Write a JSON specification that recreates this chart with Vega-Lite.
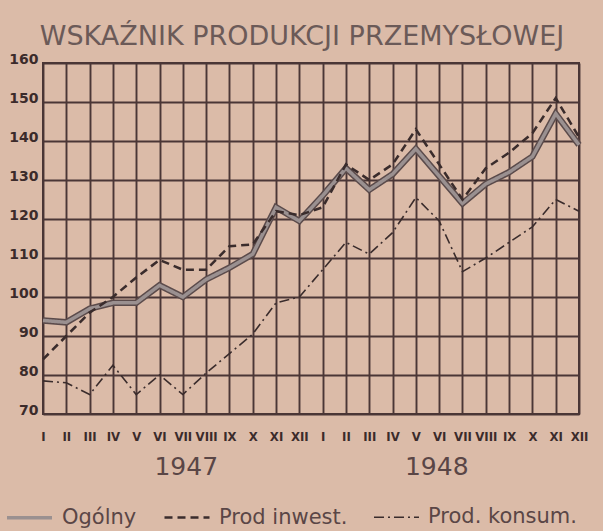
{
  "$schema": "https://vega.github.io/schema/vega-lite/v6.json",
  "width": 536,
  "height": 351,
  "autosize": {"type": "none"},
  "padding": {"left": 43, "top": 63, "right": 24, "bottom": 117},
  "background": "#dbbba8",
  "config": {"view": {"stroke": "#4a3636", "strokeWidth": 2}},
  "title": {"text": "WSKAŹNIK PRODUKCJI PRZEMYSŁOWEJ", "font": "DejaVu Sans", "fontSize": 27, "fontWeight": "normal", "color": "#6b5a58", "anchor": "middle", "offset": 1, "dx": -9},
  "datasets": {
    "main": [
      {"m": "1947-I", "s": "Ogólny", "v": 94}, {"m": "1947-II", "s": "Ogólny", "v": 93.5}, {"m": "1947-III", "s": "Ogólny", "v": 97}, {"m": "1947-IV", "s": "Ogólny", "v": 98.5}, {"m": "1947-V", "s": "Ogólny", "v": 98.5}, {"m": "1947-VI", "s": "Ogólny", "v": 103}, {"m": "1947-VII", "s": "Ogólny", "v": 100}, {"m": "1947-VIII", "s": "Ogólny", "v": 104.5}, {"m": "1947-IX", "s": "Ogólny", "v": 107.5}, {"m": "1947-X", "s": "Ogólny", "v": 111}, {"m": "1947-XI", "s": "Ogólny", "v": 123}, {"m": "1947-XII", "s": "Ogólny", "v": 119.5},
      {"m": "1948-I", "s": "Ogólny", "v": 126}, {"m": "1948-II", "s": "Ogólny", "v": 133}, {"m": "1948-III", "s": "Ogólny", "v": 127.5}, {"m": "1948-IV", "s": "Ogólny", "v": 131.5}, {"m": "1948-V", "s": "Ogólny", "v": 138}, {"m": "1948-VI", "s": "Ogólny", "v": 131}, {"m": "1948-VII", "s": "Ogólny", "v": 124}, {"m": "1948-VIII", "s": "Ogólny", "v": 129}, {"m": "1948-IX", "s": "Ogólny", "v": 132}, {"m": "1948-X", "s": "Ogólny", "v": 136}, {"m": "1948-XI", "s": "Ogólny", "v": 147}, {"m": "1948-XII", "s": "Ogólny", "v": 139},
      {"m": "1947-I", "s": "Prod inwest.", "v": 84}, {"m": "1947-II", "s": "Prod inwest.", "v": 90}, {"m": "1947-III", "s": "Prod inwest.", "v": 96}, {"m": "1947-IV", "s": "Prod inwest.", "v": 100}, {"m": "1947-V", "s": "Prod inwest.", "v": 105}, {"m": "1947-VI", "s": "Prod inwest.", "v": 109.5}, {"m": "1947-VII", "s": "Prod inwest.", "v": 107}, {"m": "1947-VIII", "s": "Prod inwest.", "v": 107}, {"m": "1947-IX", "s": "Prod inwest.", "v": 113}, {"m": "1947-X", "s": "Prod inwest.", "v": 113.5}, {"m": "1947-XI", "s": "Prod inwest.", "v": 122}, {"m": "1947-XII", "s": "Prod inwest.", "v": 121},
      {"m": "1948-I", "s": "Prod inwest.", "v": 123}, {"m": "1948-II", "s": "Prod inwest.", "v": 134}, {"m": "1948-III", "s": "Prod inwest.", "v": 130}, {"m": "1948-IV", "s": "Prod inwest.", "v": 134}, {"m": "1948-V", "s": "Prod inwest.", "v": 143}, {"m": "1948-VI", "s": "Prod inwest.", "v": 134}, {"m": "1948-VII", "s": "Prod inwest.", "v": 125}, {"m": "1948-VIII", "s": "Prod inwest.", "v": 133}, {"m": "1948-IX", "s": "Prod inwest.", "v": 137}, {"m": "1948-X", "s": "Prod inwest.", "v": 142}, {"m": "1948-XI", "s": "Prod inwest.", "v": 151}, {"m": "1948-XII", "s": "Prod inwest.", "v": 141},
      {"m": "1947-I", "s": "Prod. konsum.", "v": 78.5}, {"m": "1947-II", "s": "Prod. konsum.", "v": 78}, {"m": "1947-III", "s": "Prod. konsum.", "v": 75}, {"m": "1947-IV", "s": "Prod. konsum.", "v": 82.5}, {"m": "1947-V", "s": "Prod. konsum.", "v": 75}, {"m": "1947-VI", "s": "Prod. konsum.", "v": 80}, {"m": "1947-VII", "s": "Prod. konsum.", "v": 75}, {"m": "1947-VIII", "s": "Prod. konsum.", "v": 80.5}, {"m": "1947-IX", "s": "Prod. konsum.", "v": 85.5}, {"m": "1947-X", "s": "Prod. konsum.", "v": 90.5}, {"m": "1947-XI", "s": "Prod. konsum.", "v": 98.5}, {"m": "1947-XII", "s": "Prod. konsum.", "v": 100},
      {"m": "1948-I", "s": "Prod. konsum.", "v": 107}, {"m": "1948-II", "s": "Prod. konsum.", "v": 114}, {"m": "1948-III", "s": "Prod. konsum.", "v": 111}, {"m": "1948-IV", "s": "Prod. konsum.", "v": 116.5}, {"m": "1948-V", "s": "Prod. konsum.", "v": 125.5}, {"m": "1948-VI", "s": "Prod. konsum.", "v": 119.5}, {"m": "1948-VII", "s": "Prod. konsum.", "v": 106.5}, {"m": "1948-VIII", "s": "Prod. konsum.", "v": 110}, {"m": "1948-IX", "s": "Prod. konsum.", "v": 114}, {"m": "1948-X", "s": "Prod. konsum.", "v": 118}, {"m": "1948-XI", "s": "Prod. konsum.", "v": 125}, {"m": "1948-XII", "s": "Prod. konsum.", "v": 122}
    ],
    "years": [{"year": "1947"}, {"year": "1948"}]
  },
  "layer": [
    {
      "data": {"name": "main"},
      "encoding": {
        "x": {"field": "m", "type": "ordinal", "sort": null, "scale": {"type": "point", "padding": 0},
          "axis": {"title": null, "labelExpr": "split(datum.value, '-')[1]", "labelAngle": 0, "labelOverlap": false, "grid": true, "gridColor": "#4a3636", "gridWidth": 1.9, "gridOpacity": 1, "domain": false, "ticks": false, "tickSize": 0, "labelPadding": 16, "labelFont": "DejaVu Sans Condensed", "labelFontWeight": "bold", "labelFontSize": 13, "labelColor": "#3b2b2b"}},
        "y": {"field": "v", "type": "quantitative", "scale": {"domain": [70, 160], "nice": false, "zero": false},
          "axis": {"title": null, "values": [70, 80, 90, 100, 110, 120, 130, 140, 150, 160], "grid": true, "gridColor": "#4a3636", "gridWidth": 1.9, "gridOpacity": 1, "domain": false, "ticks": false, "tickSize": 0, "labelPadding": 5, "labelFont": "DejaVu Sans", "labelFontWeight": "bold", "labelFontSize": 14, "labelColor": "#3b2b2b", "labelBaseline": "alphabetic"}}
      },
      "layer": [
        {
          "transform": [{"filter": "datum.s === 'Ogólny'"}],
          "mark": {"type": "line", "stroke": "#5b4b4b", "strokeWidth": 6.5}
        },
        {
          "mark": {"type": "line"},
          "encoding": {
            "color": {"field": "s", "type": "nominal", "scale": {"domain": ["Ogólny", "Prod inwest.", "Prod. konsum."], "range": ["#9a9090", "#3a2c2c", "#3a2c2c"]},
              "legend": {"title": null, "orient": "none", "legendX": -38, "legendY": 430, "direction": "horizontal", "symbolType": "stroke", "symbolSize": 2025, "labelFont": "DejaVu Sans", "labelFontSize": 21, "labelColor": "#5a4646", "columnPadding": 22, "labelOffset": 8}},
            "strokeDash": {"field": "s", "type": "nominal", "scale": {"domain": ["Ogólny", "Prod inwest.", "Prod. konsum."], "range": [[1, 0], [8, 5], [10, 4, 2, 4]]}},
            "strokeWidth": {"field": "s", "type": "nominal", "scale": {"domain": ["Ogólny", "Prod inwest.", "Prod. konsum."], "range": [3.5, 1.6, 1.6]}}
          }
        }
      ]
    },
    {
      "data": {"name": "years"},
      "mark": {"type": "text", "text": "", "opacity": 0},
      "encoding": {
        "x": {"field": "year", "type": "ordinal", "scale": {"type": "point", "padding": 0.57},
          "axis": {"orient": "bottom", "title": null, "grid": false, "domain": false, "ticks": false, "tickSize": 0, "labelPadding": 40, "labelAngle": 0, "labelFont": "DejaVu Sans", "labelFontSize": 25, "labelColor": "#5a4646"}}
      }
    }
  ],
  "resolve": {"scale": {"x": "independent"}, "axis": {"x": "independent"}}
}
